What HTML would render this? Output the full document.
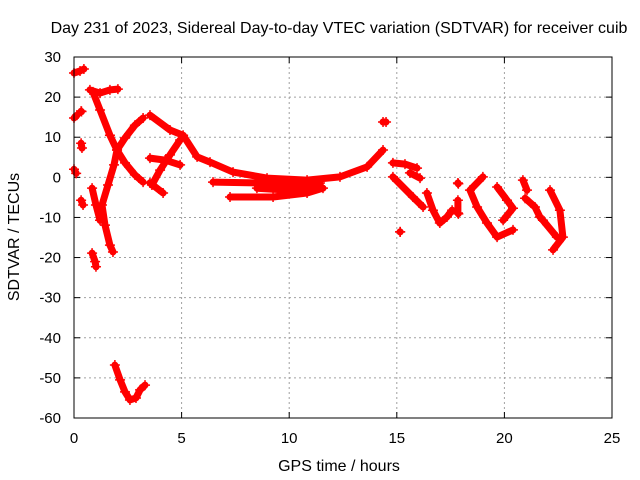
<!DOCTYPE html>
<html><head><meta charset="utf-8"><style>
html,body{margin:0;padding:0;background:#fff;}
svg{display:block;font-family:"Liberation Sans",sans-serif;}
</style></head><body>
<svg id="chart" width="640" height="480" viewBox="0 0 640 480">
<rect width="640" height="480" fill="#fff"/>
<text x="339" y="33" text-anchor="middle" font-size="16" fill="#000">Day 231 of 2023, Sidereal Day-to-day VTEC variation (SDTVAR) for receiver cuib</text>
<g id="grid"></g>
<g id="axes"></g>
<g id="marks"></g>
<rect x="74" y="57" width="538" height="361" fill="none" stroke="#000" stroke-width="1"/>
<text x="339" y="471" text-anchor="middle" font-size="16">GPS time / hours</text>
<text transform="translate(19,237) rotate(-90)" text-anchor="middle" font-size="16">SDTVAR / TECUs</text>
</svg>
<script>
const xTicks=[0,5,10,15,20,25];
const yTicks=[30,20,10,0,-10,-20,-30,-40,-50,-60];
// tracks: hours and TECU values
const trackHours=[
[0,0.28,0.46],[0,0.14],[0.33,0.35],[0.33,0.37],[0,0.1],[0.33,0.42],[0.84,0.98,1.02],
[0.74,1.21,1.67,2.04],
[0.88,1.21,1.67,2.0,1.86,1.58,1.30,1.44,1.67,1.81],
[0.84,1.02,1.21],
[3.21,2.83,2.37,2.0,2.37,2.83,3.21],
[3.53,4.46,5.07,5.72,6.32,7.39,8.97,10.83,12.36,13.62,14.36],
[3.62,4.0,4.46,4.93],
[3.53,4.23,4.93],
[3.53,4.14],
[6.46,8.5,10.04,11.43],
[7.25,9.25,10.83,11.57],
[8.5,10.04,11.43],
[14.36,14.5],
[14.82,15.38,15.94],
[15.61,16.08],
[14.82,15.75,16.22],
[16.4,16.68,17.0,17.33,17.57],
[17.84,17.86],[17.84,17.84,17.86],
[19.0,18.4,18.73,19.19,19.66,20.4],
[19.66,20.12,20.4,19.94],
[20.86,21.05],
[20.96,21.42,21.65],
[22.12,22.58,22.72,22.26],
[21.79,22.44],
[1.9,2.14,2.37,2.6,2.88,3.07,3.3],
[15.15,15.16]
];
const trackValues=[
[26,26.5,27],[14.8,15.5],[16.5,16.4],[8.5,7.3],[2,1],[-5.7,-6.9],[-18.9,-21,-22.3],
[21.8,21,21.8,22],
[21.3,16.8,10.5,6.8,3.1,-1.9,-6.9,-11.9,-16.9,-18.6],
[-2.7,-6.9,-10.7],
[14.8,13,9.8,6.8,3.6,0.6,-1.2],
[15.5,11.8,10.5,5.1,3.8,1.3,-0.2,-0.7,0.1,2.6,6.8],
[-1.9,1.8,5.6,9.3],
[4.8,4.3,3.1],
[-1.4,-3.9],
[-1.2,-1.4,-1.9,-1.4],
[-4.9,-4.9,-3.9,-2.7],
[-2.7,-3.2,-2.2],
[13.8,13.8],
[3.6,3.3,2.3],
[1.1,-0.2],
[0.1,-4.9,-7.4],
[-3.9,-8.2,-11.4,-9.9,-8.2],
[-1.4,-1.6],[-5.7,-8.9,-9.1],
[0.1,-3.2,-7.4,-11.4,-14.9,-13.1],
[-2.4,-5.7,-7.7,-10.7],
[-0.7,-3.2],
[-5.2,-7.4,-9.9],
[-3.2,-8.2,-14.9,-18.1],
[-10.7,-14.9],
[-46.8,-50.5,-53.5,-55.5,-55,-53,-51.8],
[-13.6,-13.6]
];
const NS="http://www.w3.org/2000/svg";
const L=74,R=612,T=57,B=418;
function sx(h){return L+(h-0)/(25-0)*(R-L);}
function sy(v){return B-(v+60)/(90)*(B-T);}
const grid=document.getElementById('grid'),axes=document.getElementById('axes'),marks=document.getElementById('marks');
function mk(tag,attrs,parent){const e=document.createElementNS(NS,tag);for(const k in attrs)e.setAttribute(k,attrs[k]);parent.appendChild(e);return e;}
xTicks.forEach(t=>{
  const x=sx(t);
  if(t>0&&t<25){const g=mk('line',{x1:x,x2:x,y1:T,y2:B,stroke:'#a0a0a0','stroke-dasharray':'2,3'},grid);
  
  }
  const a=mk('line',{x1:x,x2:x,y1:B,y2:B-6,stroke:'#000'},axes);
  const b=mk('line',{x1:x,x2:x,y1:T,y2:T+6,stroke:'#000'},axes);
  const tx=mk('text',{x:x,y:443,'text-anchor':'middle','font-size':15},axes);tx.textContent=t;
  
  
});
yTicks.forEach(t=>{
  const y=sy(t);
  if(t<30&&t>-60){const g=mk('line',{x1:L,x2:R,y1:y,y2:y,stroke:'#a0a0a0','stroke-dasharray':'2,3'},grid);
  
  }
  const a=mk('line',{x1:L,x2:L+6,y1:y,y2:y,stroke:'#000'},axes);
  const b=mk('line',{x1:R,x2:R-6,y1:y,y2:y,stroke:'#000'},axes);
  const tx=mk('text',{x:61,y:y+5,'text-anchor':'end','font-size':15},axes);tx.textContent=t;
  
  
});
trackHours.forEach((hs,i)=>{
  const vs=trackValues[i];
  const pts=hs.map((h,j)=>sx(h).toFixed(1)+','+sy(vs[j]).toFixed(1)).join(' ');
  const pl=mk('polyline',{points:pts,fill:'none',stroke:'#ff0000','stroke-width':7,'stroke-linejoin':'round','stroke-linecap':'round'},marks);
  
  
  hs.forEach((h,j)=>{
    const x=sx(h),y=sy(vs[j]);
    const p=mk('path',{d:`M${x-5},${y}H${x+5}M${x},${y-5}V${y+5}`,stroke:'#ff0000','stroke-width':1.5},marks);
    
    
  });
});
</script>
</body></html>
